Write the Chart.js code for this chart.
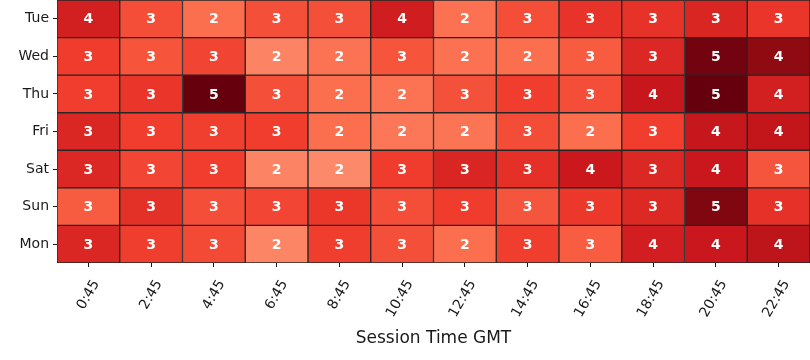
<!DOCTYPE html>
<html>
<head>
<meta charset="utf-8">
<script src="https://cdn.jsdelivr.net/npm/chart.js@4.4.1/dist/chart.umd.min.js"></script>
<style>html,body{margin:0;background:#fff}</style>
</head>
<body>
<canvas id="heat" width="810" height="360"></canvas>
<script>
const TIMES = ["0:45", "2:45", "4:45", "6:45", "8:45", "10:45", "12:45", "14:45", "16:45", "18:45", "20:45", "22:45"];
const DAYS = ["Tue", "Wed", "Thu", "Fri", "Sat", "Sun", "Mon"];

// mean value per day / time slot (label is the rounded value)
const TUE = [3.57, 2.87, 2.45, 2.85, 2.85, 3.6, 2.43, 2.88, 3.24, 3.25, 3.45, 3.19];
const WED = [3.1, 2.79, 2.99, 2.15, 2.4, 2.79, 2.43, 2.47, 2.7, 3.42, 4.74, 4.47];
const THU = [3.08, 3.19, 5.0, 2.85, 2.45, 2.4, 2.84, 3.08, 2.88, 3.73, 5.0, 3.57];
const FRI = [3.44, 3.08, 3.06, 3.08, 2.45, 2.34, 2.38, 2.9, 2.45, 3.08, 3.76, 3.83];
const SAT = [3.42, 2.98, 3.08, 2.15, 2.06, 3.1, 3.45, 3.29, 3.7, 3.42, 3.72, 2.78];
const SUN = [2.7, 3.28, 2.87, 2.98, 3.18, 2.87, 3.1, 2.78, 3.15, 3.4, 4.62, 3.27];
const MON = [3.44, 3.07, 2.92, 2.13, 3.07, 2.86, 2.45, 3.07, 2.68, 3.58, 3.72, 3.9];
const ROWS = [TUE, WED, THU, FRI, SAT, SUN, MON];

const VMIN = 0.2, VMAX = 4.85;
const REDS = ["#fff5f0", "#fee0d2", "#fcbba1", "#fc9272", "#fb6a4a", "#ef3b2c", "#cb181d", "#a50f15", "#67000d"];
const INK = "#1a1a1a";
const FONT = "'DejaVu Sans', sans-serif";

function hex(h) { return [1, 3, 5].map(i => parseInt(h.slice(i, i + 2), 16)); }
function reds(v) {
  let t = (v - VMIN) / (VMAX - VMIN);
  t = Math.max(0, Math.min(1, t)) * (REDS.length - 1);
  const i = Math.min(REDS.length - 2, Math.floor(t)), f = t - i;
  const a = hex(REDS[i]), b = hex(REDS[i + 1]);
  const c = a.map((x, k) => Math.round(x + (b[k] - x) * f));
  return `rgb(${c[0]},${c[1]},${c[2]})`;
}

/* Plugin: rounded value in the middle of each cell */
const cellLabels = {
  id: "cellLabels",
  afterDatasetsDraw(chart) {
    const { ctx } = chart;
    ctx.save();
    ctx.font = `bold 14px ${FONT}`;
    ctx.fillStyle = "#ffffff";
    ctx.textAlign = "center";
    ctx.textBaseline = "middle";
    ROWS.forEach((row, r) => {
      chart.getDatasetMeta(r).data.forEach((bar, i) => {
        ctx.fillText(String(Math.round(row[i])), bar.x, (bar.y + bar.base) / 2 + 1);
      });
    });
    ctx.restore();
  },
};

new Chart(document.getElementById("heat"), {
  type: "bar",
  data: {
    labels: TIMES,
    datasets: ROWS.map((row, r) => ({
      label: DAYS[r],
      data: row.map(() => 1),
      backgroundColor: row.map(reds),
      borderColor: "#262626",
      borderWidth: 1,
      borderSkipped: false,
      barPercentage: 1,
      categoryPercentage: 1,
    })),
  },
  options: {
    responsive: false,
    animation: false,
    layout: { padding: 0 },
    plugins: { legend: { display: false }, tooltip: { enabled: false } },
    scales: {
      x: {
        stacked: true,
        grid: { offset: false, drawOnChartArea: false, color: INK, tickLength: 4 },
        border: { display: false },
        ticks: { color: INK, font: { family: FONT, size: 14 }, minRotation: 60, maxRotation: 60, padding: 10, labelOffset: 8, autoSkip: false },
        title: { display: true, text: "Session Time GMT", color: INK, font: { family: FONT, size: 17 }, padding: { top: 0, bottom: 11 } },
        afterFit(scale) { scale.height = 97; scale.paddingLeft = 0; scale.paddingRight = 0; },
      },
      y: {
        stacked: true,
        reverse: true,
        min: 0,
        max: DAYS.length,
        grid: { drawOnChartArea: false, color: INK, tickLength: 4 },
        border: { display: false },
        afterBuildTicks(axis) { axis.ticks = DAYS.map((d, i) => ({ value: i + 0.5 })); },
        ticks: { color: INK, font: { family: FONT, size: 14 }, padding: 4, autoSkip: false, callback: (v) => DAYS[Math.floor(v)] },
        afterFit(scale) { scale.width = 57; scale.paddingTop = 0; scale.paddingBottom = 0; },
      },
    },
  },
  plugins: [cellLabels],
});
</script>
</body>
</html>
